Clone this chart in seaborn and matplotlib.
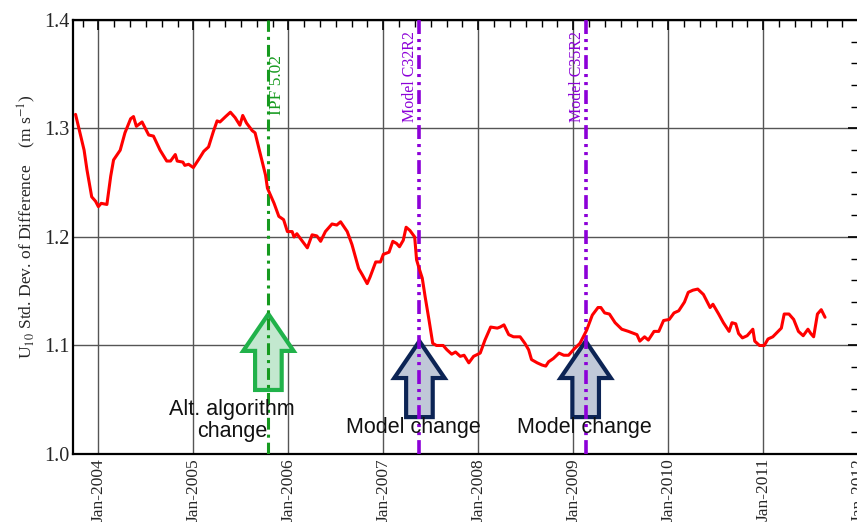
import matplotlib
matplotlib.use("Agg")
import matplotlib.pyplot as plt
import seaborn as sns
import pandas as pd
from matplotlib.patches import FancyArrow
from matplotlib.ticker import FixedLocator, MultipleLocator

# ---------------- data ----------------
dates = [2003.76, 2003.85, 2003.88, 2003.93, 2003.97, 2004.00, 2004.03, 2004.09, 2004.13, 2004.16,
         2004.23, 2004.28, 2004.34, 2004.37, 2004.40, 2004.46, 2004.53, 2004.58, 2004.65, 2004.72,
         2004.76, 2004.81, 2004.83, 2004.89, 2004.91, 2004.95, 2005.00, 2005.06, 2005.11, 2005.16,
         2005.21, 2005.25, 2005.28, 2005.34, 2005.39, 2005.44, 2005.49, 2005.52, 2005.56, 2005.62,
         2005.65, 2005.72, 2005.76, 2005.78, 2005.85, 2005.90, 2005.95, 2005.99, 2006.04, 2006.06,
         2006.09, 2006.14, 2006.20, 2006.25, 2006.30, 2006.34, 2006.39, 2006.46, 2006.51, 2006.55,
         2006.62, 2006.67, 2006.74, 2006.78, 2006.83, 2006.86, 2006.92, 2006.97, 2007.00, 2007.06,
         2007.10, 2007.14, 2007.17, 2007.21, 2007.24, 2007.28, 2007.33, 2007.35, 2007.37, 2007.41,
         2007.44, 2007.48, 2007.52, 2007.56, 2007.63, 2007.67, 2007.72, 2007.76, 2007.81, 2007.85,
         2007.90, 2007.95, 2008.02, 2008.07, 2008.13, 2008.20, 2008.23, 2008.27, 2008.32, 2008.37,
         2008.44, 2008.49, 2008.53, 2008.56, 2008.62, 2008.67, 2008.71, 2008.74, 2008.79, 2008.85,
         2008.90, 2008.95, 2009.00, 2009.07, 2009.14, 2009.20, 2009.26, 2009.29, 2009.33, 2009.38,
         2009.44, 2009.51, 2009.58, 2009.67, 2009.70, 2009.75, 2009.79, 2009.85, 2009.90, 2009.95,
         2010.01, 2010.06, 2010.11, 2010.17, 2010.21, 2010.26, 2010.31, 2010.37, 2010.44, 2010.47,
         2010.53, 2010.58, 2010.64, 2010.67, 2010.71, 2010.74, 2010.78, 2010.83, 2010.89, 2010.91,
         2010.96, 2011.01, 2011.05, 2011.10, 2011.19, 2011.22, 2011.27, 2011.32, 2011.37, 2011.42,
         2011.47, 2011.50, 2011.53, 2011.57, 2011.61, 2011.65]
u10_std = [1.313, 1.280, 1.262, 1.237, 1.233, 1.228, 1.231, 1.230, 1.256, 1.271,
           1.280, 1.296, 1.309, 1.311, 1.302, 1.306, 1.294, 1.293, 1.280, 1.270,
           1.270, 1.276, 1.270, 1.269, 1.266, 1.267, 1.264, 1.272, 1.279, 1.283,
           1.297, 1.307, 1.306, 1.311, 1.315, 1.310, 1.303, 1.312, 1.305, 1.298,
           1.296, 1.271, 1.257, 1.245, 1.231, 1.219, 1.216, 1.205, 1.205, 1.200,
           1.203, 1.197, 1.190, 1.202, 1.201, 1.196, 1.205, 1.212, 1.211, 1.214,
           1.205, 1.193, 1.171, 1.165, 1.157, 1.163, 1.177, 1.177, 1.184, 1.186,
           1.196, 1.194, 1.191, 1.197, 1.209, 1.206, 1.200, 1.179, 1.173, 1.162,
           1.145, 1.124, 1.102, 1.100, 1.100, 1.096, 1.092, 1.094, 1.090, 1.091,
           1.084, 1.090, 1.093, 1.105, 1.117, 1.116, 1.117, 1.119, 1.110, 1.108,
           1.108, 1.102, 1.096, 1.087, 1.084, 1.082, 1.081, 1.085, 1.088, 1.093,
           1.091, 1.091, 1.096, 1.102, 1.114, 1.128, 1.135, 1.135, 1.130, 1.129,
           1.121, 1.115, 1.113, 1.110, 1.104, 1.108, 1.105, 1.113, 1.113, 1.123,
           1.124, 1.130, 1.132, 1.140, 1.149, 1.151, 1.152, 1.147, 1.135, 1.138,
           1.129, 1.121, 1.113, 1.121, 1.120, 1.111, 1.107, 1.109, 1.115, 1.104,
           1.100, 1.100, 1.106, 1.108, 1.116, 1.129, 1.129, 1.124, 1.113, 1.109,
           1.115, 1.111, 1.108, 1.129, 1.133, 1.126]

event_dates = [2005.79, 2007.38, 2009.13]
event_labels = ["IPF 5.02", "Model C32R2", "Model C35R2"]
event_notes = ["Alt. algorithm\nchange", "Model change", "Model change"]
year_ticks = list(range(2004, 2013))
year_labels = [f"Jan-{y}" for y in year_ticks]
y_ticks = [1.0, 1.1, 1.2, 1.3, 1.4]

# ---------------- style ----------------
sns.set_style("white")
plt.rcParams["font.family"] = ["Liberation Serif", "DejaVu Serif"]
plt.rcParams["mathtext.fontset"] = "stix"
plt.rcParams["lines.scale_dashes"] = False

fig = plt.figure(figsize=(8.57, 5.22), dpi=100)
ax = fig.add_axes([0.0855, 0.1303, 0.916, 0.8314])

df = pd.DataFrame({"date": dates, "std": u10_std})
sns.lineplot(data=df, x="date", y="std", color="#ff0000", lw=2.2, ax=ax, zorder=6)

ax.set_xlim(2003.736, 2012.0)
ax.set_ylim(1.0, 1.4)

ax.xaxis.set_major_locator(FixedLocator(year_ticks))
ax.set_xticklabels(year_labels, rotation=90, fontsize=12.5)
ax.xaxis.set_minor_locator(MultipleLocator(1 / 6))
ax.yaxis.set_major_locator(FixedLocator(y_ticks))
ax.set_yticklabels([f"{v:.1f}" for v in y_ticks], fontsize=14.5)
ax.yaxis.set_minor_locator(MultipleLocator(0.02))
ax.tick_params(which="both", direction="in", top=True, right=True, color="black")
ax.tick_params(which="major", length=7, width=1.2, pad=3)
ax.tick_params(which="minor", length=5, width=1.0)

ax.grid(True, which="major", color="#555555", lw=1.0, zorder=1)
ax.set_axisbelow(True)
for s in ax.spines.values():
    s.set_color("black")
    s.set_linewidth(1.6)

ax.set_xlabel("")
ax.set_ylabel(r"U$_{10}$ Std. Dev. of Difference    (m s$^{-1}$)", fontsize=12.6)
ax.yaxis.set_label_coords(-0.045, 0.524)

# event lines
green = "#169a1f"
purple = "#8c00d8"
ax.axvline(event_dates[0], color=green, lw=2.2, ls=(0, (8.5, 3.6, 2.2, 3.6)), zorder=4)
ax.axvline(event_dates[1], color=purple, lw=2.6, ls=(0, (10, 3.6, 2.2, 3.6, 2.2, 3.6)), zorder=4)
ax.axvline(event_dates[2], color=purple, lw=2.6, ls=(0, (10, 3.6, 2.2, 3.6, 2.2, 3.6)), zorder=4)

ax.text(event_dates[0] + 0.095, 1.312, event_labels[0], rotation=90, color=green,
        ha="center", va="bottom", fontsize=12.5)
ax.text(event_dates[1] - 0.095, 1.306, event_labels[1], rotation=90, color=purple,
        ha="center", va="bottom", fontsize=11.5)
ax.text(event_dates[2] - 0.095, 1.306, event_labels[2], rotation=90, color=purple,
        ha="center", va="bottom", fontsize=11.5)

# block arrows
arrow_styles = [("#21b24a", "#c3e8cf", 1.059), ("#0c2455", "#c0c8d8", 1.034), ("#0c2455", "#c0c8d8", 1.034)]
for d, (ec, fc, y0) in zip(event_dates, arrow_styles):
    arr = FancyArrow(d, y0, 0, 0.070, width=0.28, head_width=0.53, head_length=0.034,
                     length_includes_head=True, facecolor=fc, edgecolor=ec, lw=3.0, zorder=3)
    ax.add_patch(arr)

note_dx = [-0.38, -0.06, -0.01]
note_y = [1.031, 1.024, 1.024]
for d, txt, dx, yy in zip(event_dates, event_notes, note_dx, note_y):
    ax.text(d + dx, yy, txt, ha="center", va="center", fontsize=15.5,
            family=["Liberation Sans", "DejaVu Sans"], linespacing=1.05, zorder=7,
            color="#111111")

fig.savefig("out.png", dpi=100)
